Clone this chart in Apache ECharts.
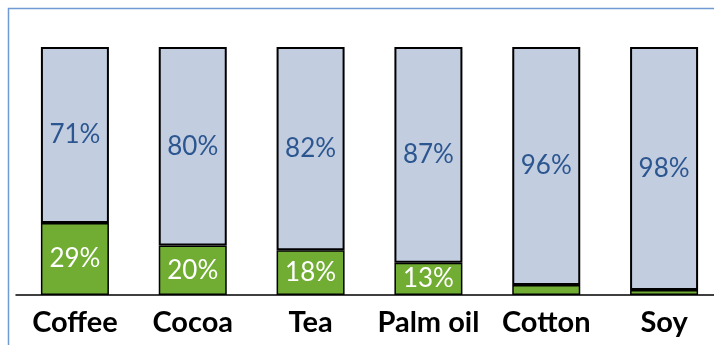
<!DOCTYPE html>
<html>
<head>
<meta charset="utf-8">
<script src="https://cdn.jsdelivr.net/npm/echarts@6/dist/echarts.min.js"></script>
<style>html,body{margin:0;padding:0;background:#fff;}#c{width:714px;height:345px;}</style>
</head>
<body>
<div id="c"></div>
<script>
const categories = ['Coffee', 'Cocoa', 'Tea', 'Palm oil', 'Cotton', 'Soy'];
const greenShare = [29, 20, 18, 13, 4, 2];
const otherShare = [71, 80, 82, 87, 96, 98];

const chart = echarts.init(document.getElementById('c'));
chart.setOption({
  animation: false,
  graphic: [{
    type: 'rect',
    shape: { x: 8.5, y: 8.5, width: 720, height: 360 },
    style: { fill: 'none', stroke: '#6F9AD4', lineWidth: 1.5 },
    silent: true
  }],
  grid: { left: 16, right: -9, top: 47, bottom: 50, outerBoundsMode: 'none', containLabel: false },
  xAxis: {
    type: 'category',
    data: categories,
    axisLine: { show: true, lineStyle: { color: '#000', width: 1.5 } },
    axisTick: { show: false },
    axisLabel: {
      interval: 0,
      hideOverlap: false,
      margin: 13,
      fontFamily: 'Lato',
      fontWeight: 'bold',
      fontSize: 29,
      color: '#000'
    }
  },
  yAxis: { type: 'value', min: 0, max: 100, show: false, splitLine: { show: false } },
  series: [
    {
      type: 'bar',
      stack: 'a',
      data: greenShare,
      barWidth: 68,
      itemStyle: { color: '#70AD32', borderColor: '#000', borderWidth: 1.5 },
      label: {
        show: true,
        position: 'inside',
        formatter: p => p.value >= 10 ? p.value + '%' : '',
        fontFamily: 'Lato',
        fontSize: 26,
        color: '#fff'
      }
    },
    {
      type: 'bar',
      stack: 'a',
      data: otherShare,
      barWidth: 68,
      itemStyle: { color: '#C3CDE0', borderColor: '#000', borderWidth: 2 },
      label: {
        show: true,
        position: 'inside',
        formatter: p => p.value + '%',
        fontFamily: 'Lato',
        fontSize: 26,
        color: '#2B5690'
      }
    }
  ]
});
</script>
</body>
</html>
